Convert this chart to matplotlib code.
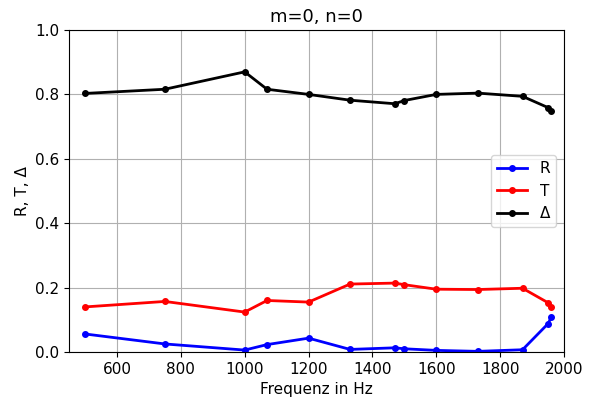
import matplotlib
matplotlib.use("Agg")
import matplotlib.pyplot as plt

freq = [500, 750, 1000, 1070, 1200, 1330, 1470, 1500, 1600, 1730, 1870, 1950, 1960]
R = [0.056, 0.025, 0.006, 0.023, 0.043, 0.008, 0.013, 0.010, 0.005, 0.002, 0.007, 0.088, 0.108]
T = [0.140, 0.157, 0.124, 0.160, 0.155, 0.211, 0.214, 0.209, 0.195, 0.194, 0.198, 0.153, 0.141]
D = [0.803, 0.816, 0.870, 0.816, 0.800, 0.782, 0.771, 0.781, 0.800, 0.804, 0.794, 0.759, 0.750]

plt.rcParams["font.size"] = 11
fig = plt.figure(figsize=(5.9, 4.0), dpi=100)
ax = fig.add_axes([0.117, 0.12, 0.839, 0.805])
ax.plot(freq, R, "o-", color="blue", markersize=4, linewidth=2, label="R")
ax.plot(freq, T, "o-", color="red", markersize=4, linewidth=2, label="T")
ax.plot(freq, D, "o-", color="black", markersize=4, linewidth=2, label="Δ")
ax.set_xlim(450, 2000)
ax.set_ylim(0, 1.0)
ax.grid(True)
ax.set_title("m=0, n=0", fontsize=13)
ax.set_xlabel("Frequenz in Hz")
ax.set_ylabel("R, T, Δ")
ax.legend(loc="center right")
fig.savefig("out.png", dpi=100)
